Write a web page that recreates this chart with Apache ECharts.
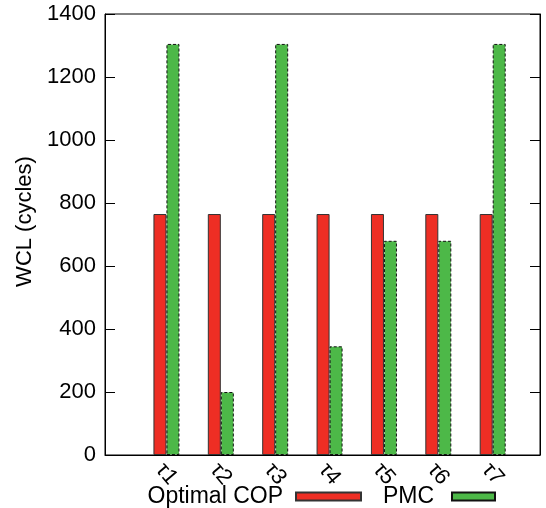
<!DOCTYPE html>
<html>
<head>
<meta charset="utf-8">
<script src="https://cdn.jsdelivr.net/npm/echarts@6/dist/echarts.min.js"></script>
<style>html,body{margin:0;padding:0;background:#fff}#c{width:546px;height:508px}</style>
</head>
<body>
<div id="c"></div>
<script>
var categories = ['τ1', 'τ2', 'τ3', 'τ4', 'τ5', 'τ6', 'τ7'];
var optimalCOP = [765, 765, 765, 765, 765, 765, 765];
var pmc = [1305, 200, 1305, 345, 680, 680, 1305];
var yTicks = [0, 200, 400, 600, 800, 1000, 1200, 1400];

var FONT = 'Liberation Sans, Arial, sans-serif';
var chart = echarts.init(document.getElementById('c'), null, {renderer: 'canvas'});
var idx = categories.map(function (c, i) { return i; });

chart.setOption({
  animation: false,
  backgroundColor: '#fff',
  grid: {left: 105, right: 6, top: 14, bottom: 53, show: true, borderColor: '#000', borderWidth: 1, backgroundColor: 'transparent'},
  xAxis: {
    type: 'value', min: -1.13, max: 6.87,
    splitLine: {show: false},
    axisLine: {show: true, onZero: false, lineStyle: {color: '#000'}},
    axisTick: {show: false},
    axisLabel: {
      customValues: idx,
      formatter: function (v) { return categories[Math.round(v)] || ''; },
      rotate: -50, align: 'center', verticalAlign: 'middle',
      margin: 19, fontSize: 22, fontFamily: FONT, color: '#000'
    }
  },
  yAxis: [{
    type: 'value', min: yTicks[0], max: yTicks[yTicks.length - 1], interval: 200,
    name: 'WCL (cycles)', nameLocation: 'middle', nameGap: 63, nameRotate: 90,
    nameTextStyle: {fontSize: 22, fontFamily: FONT, color: '#000', padding: [0, 0, 0, 26]},
    splitLine: {show: false},
    axisLine: {show: true, onZero: false, lineStyle: {color: '#000'}},
    axisTick: {show: true, inside: true, length: 10, lineStyle: {color: '#000'}},
    axisLabel: {fontSize: 22, fontFamily: FONT, color: '#000', margin: 9,
      formatter: function (v) { return String(v); }}
  }, {
    type: 'value', position: 'right', min: yTicks[0], max: yTicks[yTicks.length - 1], interval: 200,
    splitLine: {show: false},
    axisLine: {show: true, onZero: false, lineStyle: {color: '#000'}},
    axisTick: {show: true, inside: true, length: 10, lineStyle: {color: '#000'}},
    axisLabel: {show: false}
  }],
  legend: [{
    data: ['Optimal COP'], right: 184, top: 485, padding: 0, align: 'right',
    itemWidth: 65, itemHeight: 8, icon: 'rect',
    textStyle: {fontSize: 23, fontFamily: FONT, color: '#000', padding: [0, 8, 0, 0]}
  }, {
    data: ['PMC'], right: 50, top: 485, padding: 0, align: 'right',
    itemWidth: 43, itemHeight: 8, icon: 'rect',
    textStyle: {fontSize: 23, fontFamily: FONT, color: '#000', padding: [0, 13, 0, 0]}
  }],
  series: [{
    name: 'Optimal COP', type: 'bar', barWidth: 13, barGap: '0%',
    data: optimalCOP.map(function (v, i) { return [i, v]; }),
    itemStyle: {color: '#ee2e24', borderColor: '#333', borderWidth: 1}
  }, {
    name: 'PMC', type: 'bar', barWidth: 13, barGap: '0%',
    data: pmc.map(function (v, i) { return [i, v]; }),
    itemStyle: {color: '#4db848', borderColor: '#111', borderWidth: 1, borderType: [3, 2]}
  }]
});
</script>
</body>
</html>
